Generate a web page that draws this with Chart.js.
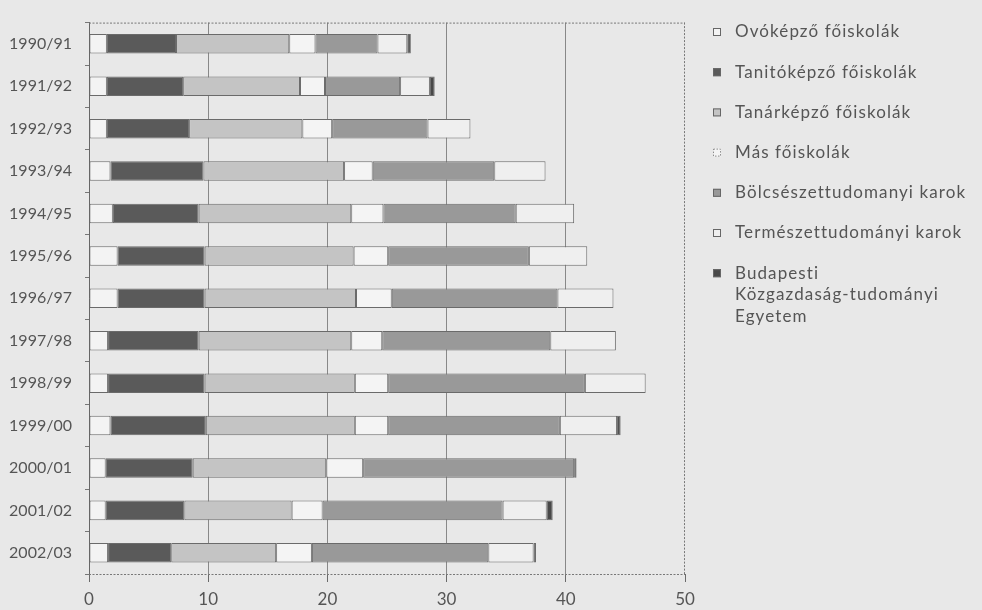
<!DOCTYPE html>
<html lang="hu">
<head>
<meta charset="utf-8">
<title>Hallgatók száma intézménytípusonként</title>
<script src="https://cdn.jsdelivr.net/npm/chart.js@4.4.1/dist/chart.umd.min.js"></script>
<style>
  html, body { margin: 0; padding: 0; background: #e8e8e8; }
  #wrap { width: 982px; height: 610px; position: relative; }
  canvas { display: block; }
</style>
</head>
<body>
<div id="wrap"><canvas id="c" width="982" height="610"></canvas></div>
<script>
// Tanévek (kategóriák)
const years = ['1990/91', '1991/92', '1992/93', '1993/94', '1994/95', '1995/96', '1996/97',
               '1997/98', '1998/99', '1999/00', '2000/01', '2001/02', '2002/03'];

// Értékek intézménytípusonként (ezer fő)
const ovokepzo      = [1.5, 1.5, 1.5, 1.8, 2.0, 2.4, 2.4, 1.6, 1.6, 1.8, 1.4, 1.4, 1.6];
const tanitokepzo   = [5.8, 6.4, 6.9, 7.8, 7.2, 7.3, 7.3, 7.6, 8.1, 8.0, 7.3, 6.6, 5.3];
const tanarkepzo    = [9.5, 9.8, 9.5, 11.8, 12.8, 12.5, 12.7, 12.8, 12.6, 12.5, 11.2, 9.0, 8.8];
const masFoiskolak  = [2.2, 2.1, 2.5, 2.4, 2.7, 2.9, 3.0, 2.6, 2.8, 2.8, 3.1, 2.6, 3.0];
const bolcsesz      = [5.2, 6.3, 8.0, 10.2, 11.1, 11.8, 13.9, 14.1, 16.5, 14.4, 17.7, 15.1, 14.8];
const termeszet     = [2.5, 2.5, 3.6, 4.3, 4.9, 4.9, 4.7, 5.5, 5.1, 4.8, 0, 3.7, 3.8];
const bkte          = [0.3, 0.4, 0, 0, 0, 0, 0, 0, 0, 0.3, 0.2, 0.5, 0.2];

// Tengelyfeliratok
const xTicks = [0, 10, 20, 30, 40, 50];

// Jelmagyarázat sorai
const legendLines = [
  ['Ovóképző főiskolák'],
  ['Tanitóképző főiskolák'],
  ['Tanárképző főiskolák'],
  ['Más főiskolák'],
  ['Bölcsészettudomanyi karok'],
  ['Természettudományi karok'],
  ['Budapesti', 'Közgazdaság-tudományi', 'Egyetem']
];

const FONT = 'Lato, "Open Sans", sans-serif';
const TEXT = '#555';
const EDGE = '#6a6a6a';

function ds(label, data, fill, dash) {
  return {
    label, data,
    backgroundColor: fill,
    borderColor: EDGE,
    borderWidth: 1,
    borderSkipped: false,
    barPercentage: 0.46,
    categoryPercentage: 1,
    legendDash: dash || null
  };
}

const datasets = [
  ds('Ovóképző főiskolák', ovokepzo, '#f3f3f3'),
  ds('Tanitóképző főiskolák', tanitokepzo, '#5a5a5a'),
  ds('Tanárképző főiskolák', tanarkepzo, '#c4c4c4'),
  ds('Más főiskolák', masFoiskolak, '#f4f4f4', [1.5, 1.5]),
  ds('Bölcsészettudomanyi karok', bolcsesz, '#999999'),
  ds('Természettudományi karok', termeszet, '#efefef'),
  ds('Budapesti Közgazdaság-tudományi Egyetem', bkte, '#484848')
];

// Keret: szaggatott felső, jobb és alsó vonal
const framePlugin = {
  id: 'frame',
  afterDraw(chart) {
    const { ctx, chartArea: a } = chart;
    ctx.save();
    ctx.strokeStyle = '#777';
    ctx.lineWidth = 1;
    ctx.setLineDash([2, 1.5]);
    ctx.beginPath();
    ctx.moveTo(a.left, a.top + 0.5); ctx.lineTo(a.right, a.top + 0.5);
    ctx.moveTo(a.right - 0.5, a.top); ctx.lineTo(a.right - 0.5, a.bottom);
    ctx.moveTo(a.left, a.bottom + 0.5); ctx.lineTo(a.right, a.bottom + 0.5);
    ctx.stroke();
    ctx.restore();
  }
};

// Jelmagyarázat a diagram jobb oldalán
const sideLegend = {
  id: 'sideLegend',
  afterDraw(chart) {
    const { ctx } = chart;
    const x0 = 713, tx = 735, y0 = 32, step = 40.2, lineH = 21.5, box = 8;
    ctx.save();
    ctx.font = '17px ' + FONT;
    ctx.letterSpacing = '1.1px';
    ctx.textBaseline = 'middle';
    ctx.textAlign = 'left';
    chart.data.datasets.forEach((d, i) => {
      const y = y0 + i * step;
      ctx.fillStyle = d.backgroundColor;
      ctx.fillRect(x0, y - box / 2, box, box);
      ctx.strokeStyle = d.legendDash ? '#8a8a8a' : '#666';
      ctx.lineWidth = 1;
      ctx.setLineDash(d.legendDash || []);
      ctx.strokeRect(x0 + 0.5, y - box / 2 + 0.5, box - 1, box - 1);
      ctx.setLineDash([]);
      ctx.fillStyle = TEXT;
      legendLines[i].forEach((t, k) => ctx.fillText(t, tx, y + k * lineH));
    });
    ctx.restore();
  }
};

new Chart(document.getElementById('c'), {
  type: 'bar',
  data: { labels: years, datasets },
  options: {
    indexAxis: 'y',
    responsive: false,
    animation: false,
    layout: { padding: { top: 10, right: 297, bottom: 0, left: 0 } },
    plugins: { legend: { display: false }, tooltip: { enabled: false } },
    scales: {
      x: {
        stacked: true,
        min: 0, max: 50,
        afterBuildTicks(scale) { scale.ticks = xTicks.map(v => ({ value: v })); },
        afterFit(scale) { scale.height = 36; },
        ticks: { color: TEXT, font: { family: FONT, size: 17 }, padding: 7 },
        grid: {
          color: c => (c.tick && c.tick.value === 50) ? 'rgba(0,0,0,0)' : '#888',
          lineWidth: 1,
          tickLength: 8,
          tickColor: '#6a6a6a'
        },
        border: { display: false }
      },
      y: {
        stacked: true,
        afterFit(scale) { scale.width = 89; },
        ticks: { color: TEXT, font: { family: FONT, size: 16 }, padding: 13 },
        grid: {
          offset: true,
          drawOnChartArea: false,
          tickLength: 4,
          tickColor: '#777'
        },
        border: { display: true, color: '#666', width: 1 }
      }
    }
  },
  plugins: [framePlugin, sideLegend]
});
</script>
</body>
</html>
